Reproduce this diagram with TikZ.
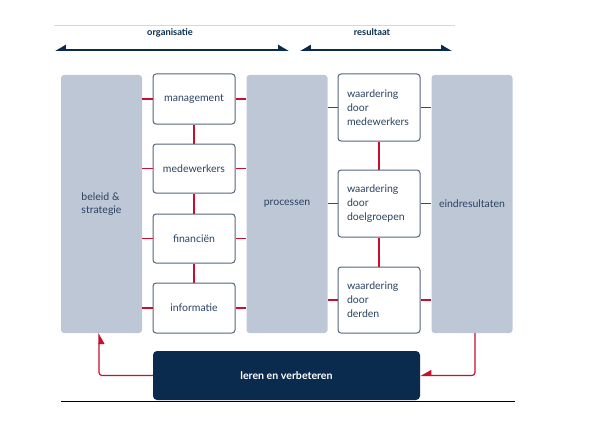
\documentclass[tikz,border=0pt]{standalone}
\usepackage{fontspec}
\setmainfont{Lato}
\usetikzlibrary{arrows.meta,positioning}
\definecolor{colgray}{HTML}{BEC7D6}
\definecolor{boxline}{HTML}{56667C}
\definecolor{txt}{HTML}{2A4260}
\definecolor{navy}{HTML}{0A2B4E}
\definecolor{redc}{HTML}{C8102E}
\definecolor{rule}{HTML}{D4D7DC}
\tikzset{
  column/.style={fill=colgray, draw=none, rounded corners=3pt, minimum width=81pt, minimum height=258pt, text=txt, font=\fontsize{10.5}{13.5}\selectfont, inner sep=0pt},
  wbox/.style={fill=white, draw=boxline, line width=1pt, rounded corners=3pt, minimum width=82pt, text=txt, font=\fontsize{10.5}{14}\selectfont, inner sep=0pt},
  conn/.style={draw=redc, line width=1.2pt},
  feed/.style={draw=redc, line width=1.2pt, rounded corners=3pt},
  head/.style={text=navy, font=\bfseries\fontsize{9.3}{11}\selectfont},
  span/.style={draw=navy, line width=2pt},
}
\begin{document}
\begin{tikzpicture}[x=1pt,y=-1pt]
\useasboundingbox (0,0) rectangle (591,425);
% top rule
\coordinate (r1) at (54,25);
\coordinate (r2) at (455,25);
\draw[rule, line width=0.8pt] (r1) -- (r2);
% headings
\node[head] (horg) at (170,33) {organisatie};
\node[head] (hres) at (372,32) {resultaat};
% span arrows
\coordinate (a1) at (55,50);
\coordinate (a2) at (289,50);
\coordinate (b1) at (300,50);
\coordinate (b2) at (452,50);
\draw[span, {Triangle[right,length=9pt,width=10pt]}-{Triangle[left,length=9pt,width=10pt]}] (a1) -- (a2);
\draw[span, {Triangle[right,length=9pt,width=10pt]}-{Triangle[left,length=9pt,width=10pt]}] (b1) -- (b2);
% columns
\node[column, align=left] (c1) at (101.5,204) {beleid \&\\strategie};
\node[column] (c3) at (287,204) {processen};
\node[column] (c5) at (472,204) {eindresultaten};
% column 2 boxes
\node[wbox, minimum height=50pt] (m1) at (194,99) {management};
\node[wbox, minimum height=49pt] (m2) at (194,168.5) {medewerkers};
\node[wbox, minimum height=49pt] (m3) at (194,238.5) {financiën};
\node[wbox, minimum height=50pt] (m4) at (194,308) {informatie};
% column 4 boxes
\node[wbox, minimum height=67pt, align=left, text width=64pt, inner xsep=9pt] (w1) at (379,107.5) {waardering\\door\\medewerkers};
\node[wbox, minimum height=67pt, align=left, text width=64pt, inner xsep=9pt] (w2) at (379,203.5) {waardering\\door\\doelgroepen};
\node[wbox, minimum height=66pt, align=left, text width=64pt, inner xsep=9pt] (w3) at (379,300) {waardering\\door\\derden};
% bottom box
\node[fill=navy, rounded corners=4pt, minimum width=267pt, minimum height=49pt, text=white, font=\bfseries\fontsize{10.6}{12}\selectfont] (lv) at (286.5,375.5) {leren en verbeteren};
% bottom rule
\coordinate (l1) at (61,401);
\coordinate (l2) at (515,401);
\draw[black, line width=1pt] (l1) -- (l2);
% connectors column 1-2-3
\foreach \n in {m1,m2,m3,m4}{
  \draw[conn] (\n.west) -- (\n.west -| c1.east);
  \draw[conn] (\n.east) -- (\n.east -| c3.west);
}
\draw[conn] (m1) -- (m2);
\draw[conn] (m2) -- (m3);
\draw[conn] (m3) -- (m4);
\foreach \n in {w1,w2,w3}{
  \draw[conn] (\n.west) -- (\n.west -| c3.east);
  \draw[conn] (\n.east) -- (\n.east -| c5.west);
}
\draw[conn] (w1) -- (w2);
\draw[conn] (w2) -- (w3);
% feedback
\coordinate (fr) at (475,333);
\coordinate (fl) at (99,333);
\draw[feed, -{Triangle[right,length=10pt,width=11pt]}] (fr) |- (lv.east);
\draw[feed, -{Triangle[right,length=10pt,width=11pt]}] (lv.west) -| (fl);
\end{tikzpicture}
\end{document}
